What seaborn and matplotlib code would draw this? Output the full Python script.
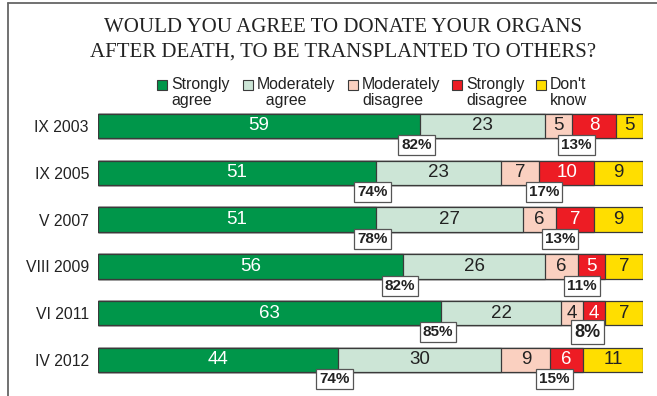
import matplotlib
matplotlib.use("Agg")
import matplotlib.pyplot as plt
import seaborn as sns
import pandas as pd
from matplotlib.lines import Line2D
from matplotlib.patches import Rectangle

# ---- data ----
periods = ["IX 2003", "IX 2005", "V 2007", "VIII 2009", "VI 2011", "IV 2012"]
categories = ["Strongly\nagree", "Moderately\n  agree", "Moderately\ndisagree",
              "Strongly\ndisagree", "Don't\nknow"]
strongly_agree = [59, 51, 51, 56, 63, 44]
moderately_agree = [23, 23, 27, 26, 22, 30]
moderately_disagree = [5, 7, 6, 6, 4, 9]
strongly_disagree = [8, 10, 7, 5, 4, 6]
dont_know = [5, 9, 9, 7, 7, 11]
agree_total = [82, 74, 78, 82, 85, 74]
disagree_total = [13, 17, 13, 11, 8, 15]

series = [strongly_agree, moderately_agree, moderately_disagree,
          strongly_disagree, dont_know]
colors = ["#00964A", "#CCE5D6", "#FAD0C0", "#ED1C24", "#FFDE00"]
text_colors = ["white", "#222222", "#222222", "white", "#222222"]

# build long table with cumulative ends
rows = []
for i, p in enumerate(periods):
    cum = 0
    for j, s in enumerate(series):
        cum += s[i]
        rows.append({"period": p, "cat": j, "value": s[i], "end": cum})
df = pd.DataFrame(rows)

sns.set_theme(style="white")
plt.rcParams["font.family"] = ["Liberation Sans", "DejaVu Sans"]

W, H = 657, 396
fig = plt.figure(figsize=(W / 100, H / 100), dpi=100)
ax = fig.add_axes([98 / W, 0.0, (643 - 98) / W, 1 - 100 / H])

edge = "#3a3a3a"
for j in reversed(range(len(series))):
    sub = df[df["cat"] == j]
    sns.barplot(data=sub, x="end", y="period", order=periods, color=colors[j],
                saturation=1, edgecolor=edge, linewidth=0.9, width=0.52,
                orient="h", ax=ax, errorbar=None)

# value labels
for _, r in df.iterrows():
    i = periods.index(r["period"])
    ax.text(r["end"] - r["value"] / 2, i, str(int(r["value"])),
            ha="center", va="center", fontsize=13.5,
            color=text_colors[int(r["cat"])])

# total boxes
box = dict(boxstyle="square,pad=0.2", fc="white", ec="#555555", lw=0.9)
for i in range(len(periods)):
    xa = strongly_agree[i] - 0.6
    xd = strongly_agree[i] + moderately_agree[i] + moderately_disagree[i] + 0.8
    ax.text(xa, i + 0.41, f"{agree_total[i]}%", ha="center", va="center",
            fontsize=11, fontweight="bold", color="#222222", bbox=box)
    fs = 13 if disagree_total[i] < 10 else 11
    ax.text(xd, i + 0.41, f"{disagree_total[i]}%", ha="center", va="center",
            fontsize=fs, fontweight="bold", color="#222222", bbox=box)

ax.set_xlim(0, 100)
ax.set_ylim(5 + 36 / 46.8, -26 / 46.8)
ax.set_xlabel("")
ax.set_ylabel("")
ax.set_xticks([])
for s in ax.spines.values():
    s.set_visible(False)
ax.tick_params(axis="y", length=0, pad=6.5, labelsize=11.3, labelcolor="#222222")
ax.patch.set_alpha(0)

# title
fig.text(343 / W, 1 - 27 / H, "WOULD YOU AGREE TO DONATE YOUR ORGANS",
         ha="center", va="center", fontsize=15, family="Liberation Serif",
         color="#222222")
fig.text(343 / W, 1 - 52 / H, "AFTER DEATH, TO BE TRANSPLANTED TO OTHERS?",
         ha="center", va="center", fontsize=15, family="Liberation Serif",
         color="#222222")

# legend (manual)
sq_x = [157, 243, 348, 452, 536]
for j, cat in enumerate(categories):
    fig.add_artist(Rectangle((sq_x[j] / W, 1 - 90 / H), 10 / W, 10 / H,
                             transform=fig.transFigure, fc=colors[j],
                             ec=edge, lw=0.8))
    fig.text((sq_x[j] + 14) / W, 1 - 77 / H, cat, ha="left", va="top",
             fontsize=11.4, linespacing=1.1, color="#222222")

# frame lines (left and top)
fig.add_artist(Line2D([7.5 / W, 7.5 / W], [0, 1 - 2.5 / H],
                      transform=fig.transFigure, color="#666666", lw=1.3))
fig.add_artist(Line2D([7.5 / W, 1], [1 - 2.5 / H, 1 - 2.5 / H],
                      transform=fig.transFigure, color="#666666", lw=1.3))

fig.savefig("out.png", dpi=100)
